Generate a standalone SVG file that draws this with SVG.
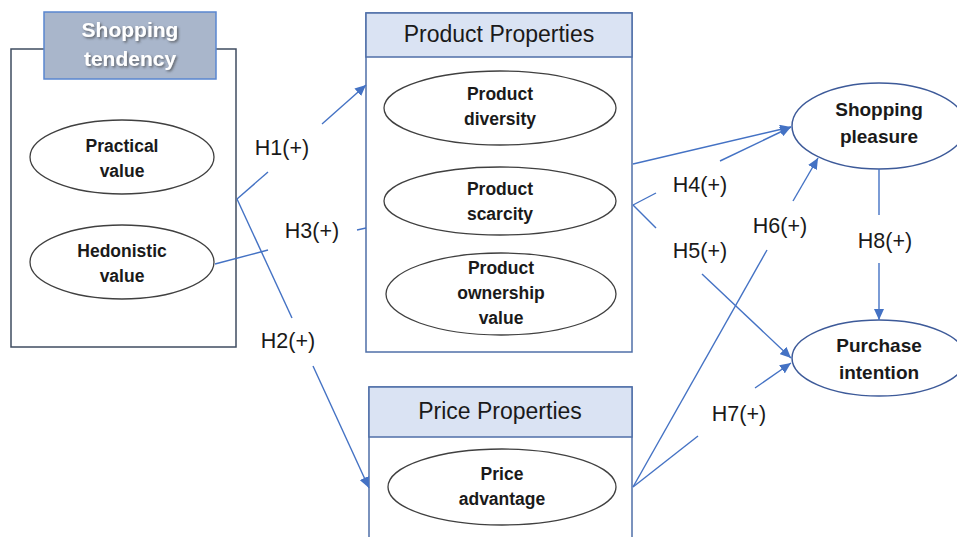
<svg xmlns="http://www.w3.org/2000/svg" width="957" height="537" viewBox="0 0 957 537">
<style>
  .box{fill:#ffffff;stroke:#4f6fa8;stroke-width:1.5}
  .boxd{fill:#ffffff;stroke:#3f4c60;stroke-width:1.5}
  .hdr{fill:#dae3f3;stroke:#4f6fa8;stroke-width:1.5}
  .hdr2{fill:#a9b6cb;stroke:#5a86d0;stroke-width:1.5}
  .ell{fill:#ffffff;stroke:#404040;stroke-width:1.3}
  .ellb{fill:#ffffff;stroke:#3d5a99;stroke-width:1.5}
  .et{font-family:"Liberation Sans",Arial,sans-serif;font-weight:bold;font-size:17.5px;fill:#1a1a1a;text-anchor:middle}
  .etl{font-size:19px}
  .ht{font-family:"Liberation Sans",Arial,sans-serif;font-size:23px;fill:#1a1a1a;text-anchor:middle}
  .wt{font-family:"Liberation Sans",Arial,sans-serif;font-weight:bold;font-size:21px;fill:#ffffff;text-anchor:middle}
  .lbl{font-family:"Liberation Sans",Arial,sans-serif;font-size:21.5px;fill:#1a1a1a;text-anchor:middle}
  .cn{fill:none;stroke:#4472c4;stroke-width:1.4}
</style>
<defs>
  <marker id="arr" markerUnits="userSpaceOnUse" markerWidth="12" markerHeight="10" refX="11" refY="5" orient="auto">
    <path d="M0,0 L11,5 L0,10 z" fill="#4472c4"/>
  </marker>
  <filter id="sh" x="-10%" y="-10%" width="130%" height="140%">
    <feDropShadow dx="1.5" dy="1.5" stdDeviation="1" flood-color="#404040" flood-opacity="0.7"/>
  </filter>
</defs>
<rect width="957" height="537" fill="#ffffff"/>

<g id="shopping-tendency">
  <rect class="boxd" x="11" y="49" width="225" height="298"/>
  <rect class="hdr2" x="44" y="12" width="172" height="67"/>
  <g filter="url(#sh)">
    <text class="wt" x="130" y="37">Shopping</text>
    <text class="wt" x="130" y="66">tendency</text>
  </g>
</g>
<g id="practical-value">
  <ellipse class="ell" cx="122" cy="157" rx="92" ry="37"/>
  <text class="et" x="122" y="152">Practical</text>
  <text class="et" x="122" y="177">value</text>
</g>
<g id="hedonistic-value">
  <ellipse class="ell" cx="122" cy="262" rx="92" ry="37"/>
  <text class="et" x="122" y="257">Hedonistic</text>
  <text class="et" x="122" y="282">value</text>
</g>

<g id="product-properties">
  <rect class="box" x="366" y="13" width="266" height="339"/>
  <rect class="hdr" x="366" y="13" width="266" height="44"/>
  <text class="ht" x="499" y="42">Product Properties</text>
</g>
<g id="product-diversity">
  <ellipse class="ell" cx="500" cy="108" rx="116" ry="37"/>
  <text class="et" x="500" y="100">Product</text>
  <text class="et" x="500" y="125">diversity</text>
</g>
<g id="product-scarcity">
  <ellipse class="ell" cx="500" cy="201" rx="116" ry="34"/>
  <text class="et" x="500" y="195">Product</text>
  <text class="et" x="500" y="220">scarcity</text>
</g>
<g id="product-ownership-value">
  <ellipse class="ell" cx="501" cy="294" rx="115" ry="41"/>
  <text class="et" x="501" y="274">Product</text>
  <text class="et" x="501" y="299">ownership</text>
  <text class="et" x="501" y="324">value</text>
</g>

<g id="price-properties">
  <rect class="box" x="369" y="387" width="263" height="160"/>
  <rect class="hdr" x="369" y="387" width="263" height="50"/>
  <text class="ht" x="500" y="419">Price Properties</text>
</g>
<g id="price-advantage">
  <ellipse class="ell" cx="502" cy="487" rx="114" ry="38"/>
  <text class="et" x="502" y="480">Price</text>
  <text class="et" x="502" y="505">advantage</text>
</g>

<g id="shopping-pleasure">
  <ellipse class="ellb" cx="879" cy="126" rx="87" ry="43"/>
  <text class="et etl" x="879" y="116">Shopping</text>
  <text class="et etl" x="879" y="143">pleasure</text>
</g>
<g id="purchase-intention">
  <ellipse class="ellb" cx="879" cy="358" rx="87" ry="38"/>
  <text class="et etl" x="879" y="352">Purchase</text>
  <text class="et etl" x="879" y="379">intention</text>
</g>

<g id="connectors">
  <!-- H1 -->
  <path class="cn" d="M237,199 L268,172"/>
  <path class="cn" d="M322,124 L366,85" marker-end="url(#arr)"/>
  <!-- H2 -->
  <path class="cn" d="M237,199 L292,318"/>
  <path class="cn" d="M313,366 L369,488" marker-end="url(#arr)"/>
  <!-- H3 -->
  <path class="cn" d="M215,264 L268,250"/>
  <path class="cn" d="M357,230 L366,228"/>
  <!-- H4 -->
  <path class="cn" d="M633,164 L791,127" marker-end="url(#arr)"/>
  <path class="cn" d="M633,205 L656,193"/>
  <path class="cn" d="M720,161 L791,127" marker-end="url(#arr)"/>
  <!-- H5 -->
  <path class="cn" d="M633,205 L656,228"/>
  <path class="cn" d="M702,274 L791,358" marker-end="url(#arr)"/>
  <!-- H6 -->
  <path class="cn" d="M633,487 L767,250"/>
  <path class="cn" d="M793,201 L818,158" marker-end="url(#arr)"/>
  <!-- H7 -->
  <path class="cn" d="M633,487 L698,436"/>
  <path class="cn" d="M755,388 L791,363" marker-end="url(#arr)"/>
  <!-- H8 -->
  <path class="cn" d="M879,169 L879,215"/>
  <path class="cn" d="M879,263 L879,320" marker-end="url(#arr)"/>
  <text class="lbl" x="282" y="155">H1(+)</text>
  <text class="lbl" x="288" y="348">H2(+)</text>
  <text class="lbl" x="312" y="238">H3(+)</text>
  <text class="lbl" x="700" y="192">H4(+)</text>
  <text class="lbl" x="700" y="258">H5(+)</text>
  <text class="lbl" x="780" y="233">H6(+)</text>
  <text class="lbl" x="739" y="421">H7(+)</text>
  <text class="lbl" x="885" y="248">H8(+)</text>
</g>
</svg>
